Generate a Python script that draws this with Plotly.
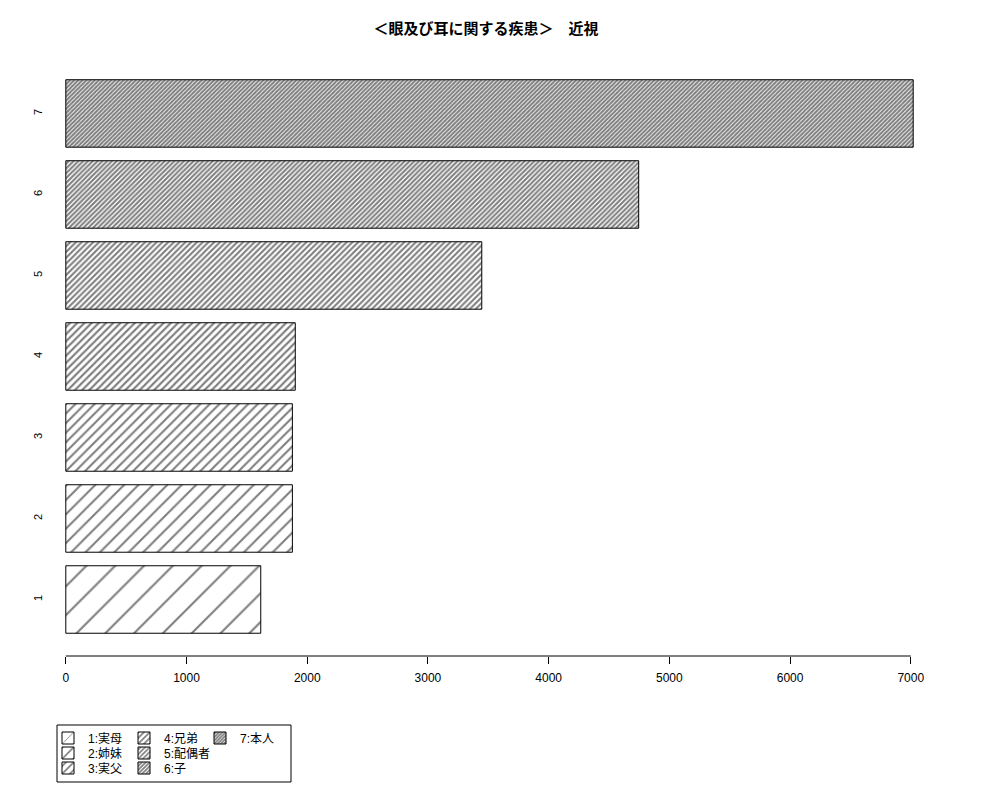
import math
import plotly.graph_objects as go

# ---- data ----
categories = ["1", "2", "3", "4", "5", "6", "7"]
values = [1615, 1877, 1877, 1901, 3446, 4746, 7020]
legend_labels = ["1:実母", "2:姉妹", "3:実父", "4:兄弟", "5:配偶者", "6:子", "7:本人"]
x_ticks = [0, 1000, 2000, 3000, 4000, 5000, 6000, 7000]
title_text = "＜眼及び耳に関する疾患＞　近視"

# ---- style ----
W, H = 992, 792  # page body has an 8px margin
densities = [5, 10, 15, 20, 25, 30, 35]  # hatch lines per inch
legend_cols = [0, 0, 0, 1, 1, 1, 2]
legend_rows = [0, 1, 2, 0, 1, 2, 0]
FONT = "Liberation Sans, Arial, Noto Sans CJK JP, sans-serif"
ML, MR, MT, MB = 37, 53, 52, 144
PW, PH = W - ML - MR, H - MT - MB

fig = go.Figure()
legend_layout = {}
for i, (cat, val) in enumerate(zip(categories, values)):
    size = 72 * math.sqrt(2) / densities[i]
    lname = "legend" if i == 0 else f"legend{i + 1}"
    fig.add_trace(go.Bar(
        x=[val], y=[cat], orientation="h", width=0.833,
        name=legend_labels[i], legend=lname,
        marker=dict(
            color="white",
            line=dict(color="black", width=1),
            pattern=dict(shape="/", size=size, solidity=min(0.9, 2.1 / size),
                         fgcolor="black", bgcolor="white", fillmode="overlay"),
        ),
        hoverinfo="skip",
    ))
    legend_layout[lname] = dict(
        orientation="v", xref="container", yref="container",
        x=(40 + 76 * legend_cols[i]) / W,
        y=1 - (730 + 15 * legend_rows[i]) / H,
        xanchor="left", yanchor="middle",
        bgcolor="rgba(0,0,0,0)", borderwidth=0,
        font=dict(family=FONT, size=12, color="black"),
        itemwidth=30,
    )

# axis line spanning only the tick range
fig.add_shape(type="line", xref="x", yref="paper", x0=x_ticks[0], x1=x_ticks[-1],
              y0=0, y1=0, line=dict(color="black", width=1))
# legend border box (page px 57..291 x 725..782)
fig.add_shape(type="rect", xref="paper", yref="paper",
              x0=(57 - 8 - ML) / PW, x1=(291 - 8 - ML) / PW,
              y0=-(782 - 8 - (MT + PH)) / PH, y1=-(725 - 8 - (MT + PH)) / PH,
              line=dict(color="black", width=1), fillcolor="rgba(0,0,0,0)")

fig.update_layout(
    width=W, height=H,
    margin=dict(l=ML, r=MR, t=MT, b=MB, autoexpand=False),
    paper_bgcolor="white", plot_bgcolor="white",
    barmode="overlay",
    showlegend=True,
    title=dict(text="<b>" + title_text + "</b>", x=(486 - 8) / W, xref="container",
               xanchor="center", y=1 - (29 - 8) / H, yref="container", yanchor="middle",
               font=dict(family=FONT, size=15, color="black")),
    xaxis=dict(range=[-172.3, 7300], tickvals=x_ticks, ticktext=[str(t) for t in x_ticks],
               ticks="outside", ticklen=7, tickcolor="black", tickwidth=1,
               ticklabelstandoff=4,
               showline=False, showgrid=False, zeroline=False,
               tickfont=dict(family=FONT, size=12, color="black")),
    yaxis=dict(type="category", categoryorder="array", categoryarray=categories,
               range=[-0.6975, 6.66], tickangle=-90, ticks="",
               showline=False, showgrid=False, zeroline=False,
               tickfont=dict(family=FONT, size=11, color="black")),
    **legend_layout,
)

fig.write_html("out.html")
